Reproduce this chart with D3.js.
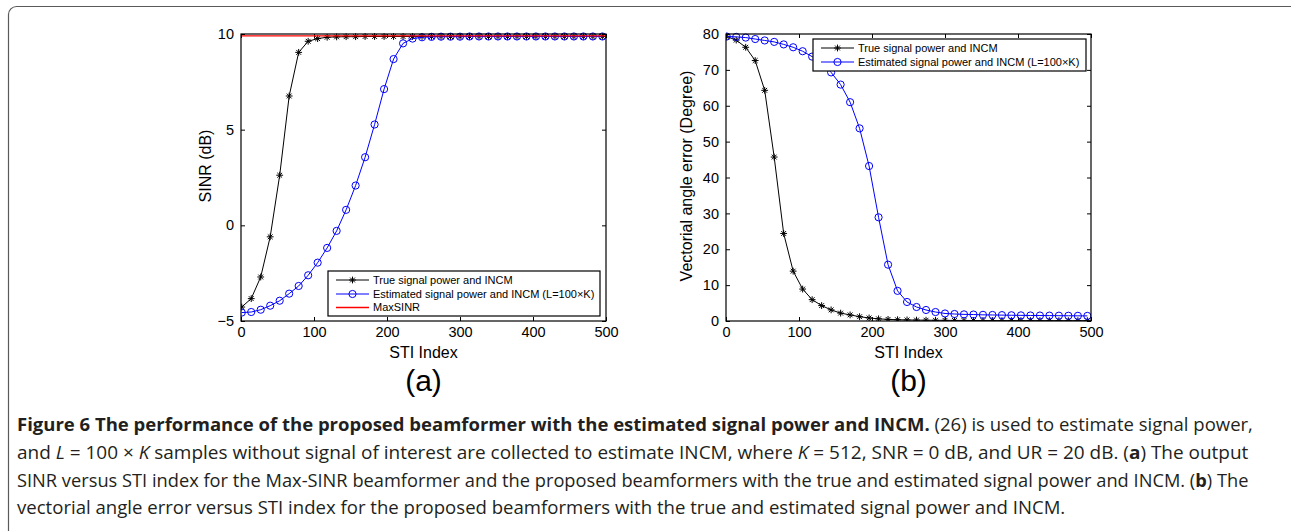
<!DOCTYPE html>
<html>
<head>
<meta charset="utf-8">
<script src="https://cdn.jsdelivr.net/npm/d3@7"></script>
<style>
  html, body { margin: 0; padding: 0; background: #fff; }
  svg { display: block; }
</style>
</head>
<body>
<svg id="fig" width="1291" height="531"></svg>
<script>
// ---------------- DATA ----------------
const stiIndex = [1,14,27,40,53,66,79,92,105,118,131,144,157,170,183,196,209,222,235,248,261,274,287,300,313,326,339,352,365,378,391,404,417,430,443,456,469,482,495];

const sinrTrue = [-4.27,-3.83,-2.70,-0.60,2.62,6.76,9.04,9.62,9.76,9.83,9.85,9.86,9.86,9.87,9.87,9.87,9.87,9.87,9.87,9.87,9.87,9.87,9.87,9.87,9.87,9.87,9.87,9.87,9.87,9.87,9.87,9.87,9.87,9.87,9.87,9.87,9.87,9.87,9.87];
const sinrEst = [-4.56,-4.53,-4.41,-4.20,-3.94,-3.57,-3.17,-2.61,-1.95,-1.18,-0.29,0.81,2.08,3.56,5.27,7.12,8.69,9.51,9.76,9.83,9.85,9.86,9.86,9.86,9.87,9.87,9.87,9.87,9.87,9.87,9.87,9.87,9.87,9.87,9.87,9.87,9.87,9.87,9.87];
const maxSinrX = [0, 500];
const maxSinrY = [9.9, 9.9];

const angleTrue = [79.3,78.3,76.3,72.6,64.3,45.7,24.4,13.9,8.9,5.95,4.3,3.1,2.2,1.7,1.2,0.85,0.6,0.45,0.35,0.3,0.25,0.22,0.2,0.18,0.16,0.15,0.14,0.13,0.12,0.11,0.11,0.1,0.1,0.1,0.1,0.09,0.09,0.09,0.09];
const angleEst = [79.3,79.2,79.0,78.6,78.2,77.8,77.1,76.3,75.2,73.7,72.0,69.3,65.9,61.0,53.7,43.2,28.9,15.7,8.4,5.3,3.9,3.07,2.5,2.1,1.95,1.85,1.8,1.72,1.68,1.64,1.6,1.57,1.54,1.52,1.5,1.48,1.46,1.44,1.42];

const xTicks = [0,100,200,300,400,500];
const yTicksA = [-5,0,5,10];
const yTicksB = [0,10,20,30,40,50,60,70,80];

const legendTrue = "True signal power and INCM";
const legendEst = "Estimated signal power and INCM (L=100\u00d7K)";
const legendMax = "MaxSINR";

// ---------------- DRAWING ----------------
const svg = d3.select("#fig");
const FONT = "'Liberation Sans', Arial, Helvetica, sans-serif";

// outer frame
svg.append("rect")
  .attr("x", 8.5).attr("y", 6.5).attr("width", 1290).attr("height", 620)
  .attr("rx", 8).attr("ry", 8)
  .attr("fill", "none").attr("stroke", "#5a5a5a").attr("stroke-width", 1.2);

function starPath(s) {
  const d = s * 0.707;
  return `M${-s},0L${s},0M0,${-s}L0,${s}M${-d},${-d}L${d},${d}M${-d},${d}L${d},${-d}`;
}

function drawChart(opt) {
  const g = svg.append("g");
  const x = d3.scaleLinear().domain([0, 500]).range([opt.left, opt.right]);
  const y = d3.scaleLinear().domain(opt.yDomain).range([opt.bottom, opt.top]);
  const clipId = "clip" + opt.id;
  svg.append("clipPath").attr("id", clipId).append("rect")
    .attr("x", opt.left).attr("y", opt.top - 4)
    .attr("width", opt.right - opt.left).attr("height", opt.bottom - opt.top + 4);

  // axes (inward ticks, box)
  const fmt = d3.format("");
  const axB = g.append("g").attr("transform", `translate(0,${opt.bottom})`)
    .call(d3.axisBottom(x).tickValues(xTicks).tickSizeInner(-4).tickSizeOuter(0).tickPadding(6).tickFormat(fmt));
  const axT = g.append("g").attr("transform", `translate(0,${opt.top})`)
    .call(d3.axisTop(x).tickValues(xTicks).tickSizeInner(-4).tickSizeOuter(0).tickFormat(""));
  const axL = g.append("g").attr("transform", `translate(${opt.left},0)`)
    .call(d3.axisLeft(y).tickValues(opt.yTicks).tickSizeInner(-4).tickSizeOuter(0).tickPadding(7).tickFormat(fmt));
  const axR = g.append("g").attr("transform", `translate(${opt.right},0)`)
    .call(d3.axisRight(y).tickValues(opt.yTicks).tickSizeInner(-4).tickSizeOuter(0).tickFormat(""));
  [axB, axT, axL, axR].forEach(a => {
    a.select(".domain").remove();
    a.selectAll(".tick line").attr("stroke", "#000").attr("stroke-width", 1);
    a.selectAll("text").attr("font-family", FONT).attr("font-size", 14.5).attr("fill", "#000");
  });

  const lineGen = d3.line().x(d => x(d[0])).y(d => y(d[1]));
  const plot = g.append("g").attr("clip-path", `url(#${clipId})`);

  opt.series.forEach(s => {
    const pts = s.xs.map((v, i) => [v, s.ys[i]]);
    plot.append("path").attr("d", lineGen(pts))
      .attr("fill", "none").attr("stroke", s.color).attr("stroke-width", s.width || 1);
    if (s.marker === "star") {
      plot.selectAll(null).data(pts).enter().append("path")
        .attr("transform", d => `translate(${x(d[0])},${y(d[1])})`)
        .attr("d", starPath(3.4)).attr("stroke", s.color).attr("stroke-width", 1).attr("fill", "none");
    } else if (s.marker === "circle") {
      plot.selectAll(null).data(pts).enter().append("circle")
        .attr("cx", d => x(d[0])).attr("cy", d => y(d[1])).attr("r", 3.6)
        .attr("stroke", s.color).attr("stroke-width", 1).attr("fill", "none");
    }
  });

  // box
  g.append("rect").attr("x", opt.left).attr("y", opt.top)
    .attr("width", opt.right - opt.left).attr("height", opt.bottom - opt.top)
    .attr("fill", "none").attr("stroke", "#000").attr("stroke-width", 1.2);

  // legend
  const L = opt.legend;
  g.append("rect").attr("x", L.x0).attr("y", L.y0).attr("width", L.x1 - L.x0).attr("height", L.y1 - L.y0)
    .attr("fill", "#fff").attr("stroke", "#000").attr("stroke-width", 1.2);
  L.items.forEach((it, i) => {
    const yy = L.rows[i];
    g.append("line").attr("x1", L.lx0).attr("x2", L.lx1).attr("y1", yy).attr("y2", yy)
      .attr("stroke", it.color).attr("stroke-width", it.width || 1);
    const mx = (L.lx0 + L.lx1) / 2;
    if (it.marker === "star") {
      g.append("path").attr("transform", `translate(${mx},${yy})`).attr("d", starPath(3.4))
        .attr("stroke", it.color).attr("stroke-width", 1).attr("fill", "none");
    } else if (it.marker === "circle") {
      g.append("circle").attr("cx", mx).attr("cy", yy).attr("r", 3.6)
        .attr("stroke", it.color).attr("stroke-width", 1).attr("fill", "none");
    }
    g.append("text").attr("x", L.tx).attr("y", yy).attr("dy", "0.36em")
      .attr("font-family", FONT).attr("font-size", 11).attr("fill", "#000").text(it.label);
  });

  // axis labels
  const cx = (opt.left + opt.right) / 2;
  g.append("text").attr("x", cx).attr("y", 358).attr("text-anchor", "middle")
    .attr("font-family", FONT).attr("font-size", 16).text("STI Index");
  g.append("text").attr("transform", `translate(${opt.ylabX},${opt.ylabY}) rotate(-90)`)
    .attr("text-anchor", "middle").attr("dy", "0.36em")
    .attr("font-family", FONT).attr("font-size", 16).text(opt.ylabel);
  g.append("text").attr("x", cx).attr("y", 391).attr("text-anchor", "middle")
    .attr("font-family", FONT).attr("font-size", 30).text(opt.tag);
}

drawChart({
  id: "a", left: 241, right: 606, top: 34, bottom: 321,
  yDomain: [-5, 10], yTicks: yTicksA,
  series: [
    { xs: stiIndex, ys: sinrTrue, color: "#000", marker: "star" },
    { xs: stiIndex, ys: sinrEst, color: "#0000ff", marker: "circle" },
    { xs: maxSinrX, ys: maxSinrY, color: "#ff0000", marker: null, width: 1.3 }
  ],
  legend: {
    x0: 328, x1: 600, y0: 271, y1: 316, rows: [280, 294, 307.5],
    lx0: 336, lx1: 369, tx: 373,
    items: [
      { label: legendTrue, color: "#000", marker: "star" },
      { label: legendEst, color: "#0000ff", marker: "circle" },
      { label: legendMax, color: "#ff0000", marker: null, width: 1.3 }
    ]
  },
  ylabel: "SINR (dB)", ylabX: 205, ylabY: 166, tag: "(a)"
});

drawChart({
  id: "b", left: 726, right: 1091, top: 34, bottom: 321,
  yDomain: [0, 80], yTicks: yTicksB,
  series: [
    { xs: stiIndex, ys: angleTrue, color: "#000", marker: "star" },
    { xs: stiIndex, ys: angleEst, color: "#0000ff", marker: "circle" }
  ],
  legend: {
    x0: 813, x1: 1086, y0: 39, y1: 71, rows: [48, 62],
    lx0: 821, lx1: 854, tx: 858,
    items: [
      { label: legendTrue, color: "#000", marker: "star" },
      { label: legendEst, color: "#0000ff", marker: "circle" }
    ]
  },
  ylabel: "Vectorial angle error (Degree)", ylabX: 686, ylabY: 176, tag: "(b)"
});

// ---------------- CAPTION ----------------
const CAP_FONT = "'Open Sans', 'Noto Sans', sans-serif";
const captionLines = [
  { y: 431, width: 1237, parts: [
    { t: "Figure 6 The performance of the proposed beamformer with the estimated signal power and INCM.", w: "bold" },
    { t: " (26) is used to estimate signal power," } ] },
  { y: 459, width: 1232, parts: [
    { t: "and " }, { t: "L", s: "italic" }, { t: " = 100 \u00d7 " }, { t: "K", s: "italic" },
    { t: " samples without signal of interest are collected to estimate INCM, where " },
    { t: "K", s: "italic" }, { t: " = 512, SNR = 0 dB, and UR = 20 dB. (" }, { t: "a", w: "bold" }, { t: ") The output" } ] },
  { y: 486.5, width: 1232, parts: [
    { t: "SINR versus STI index for the Max-SINR beamformer and the proposed beamformers with the true and estimated signal power and INCM. (" },
    { t: "b", w: "bold" }, { t: ") The" } ] },
  { y: 514, width: null, parts: [
    { t: "vectorial angle error versus STI index for the proposed beamformers with the true and estimated signal power and INCM." } ] }
];
const capNodes = [];
captionLines.forEach(line => {
  const t = svg.append("text").attr("font-family", CAP_FONT).attr("font-size", 18)
    .attr("fill", "#231f20").attr("transform", `translate(17,${line.y})`);
  line.parts.forEach(p => {
    t.append("tspan").attr("font-weight", p.w || "normal").attr("font-style", p.s || "normal").text(p.t);
  });
  capNodes.push({ node: t, line });
});
let scales = [];
capNodes.forEach(c => {
  if (c.line.width) {
    const len = c.node.node().getComputedTextLength();
    const sx = c.line.width / len;
    scales.push(sx);
    c.node.attr("transform", `translate(17,${c.line.y}) scale(${sx},1)`);
  }
});
const avgScale = d3.mean(scales);
capNodes.forEach(c => {
  if (!c.line.width) c.node.attr("transform", `translate(17,${c.line.y}) scale(${avgScale},1)`);
});
</script>
</body>
</html>
